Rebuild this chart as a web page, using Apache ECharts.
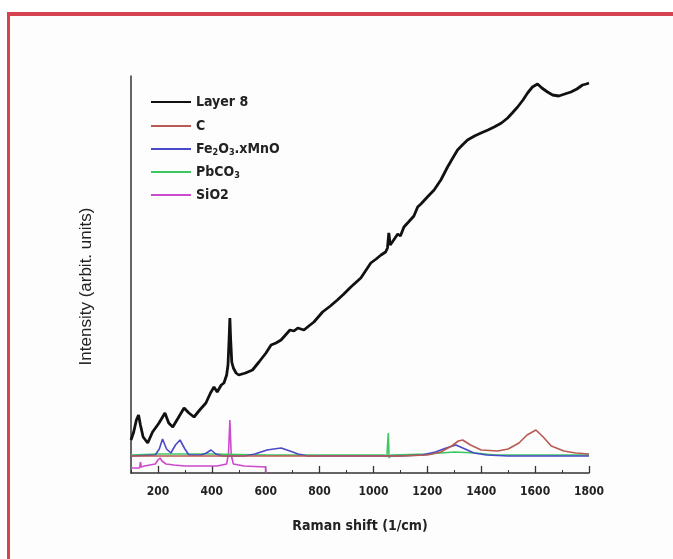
<!DOCTYPE html>
<html>
<head>
<meta charset="utf-8">
<script src="https://cdn.jsdelivr.net/npm/echarts@6/dist/echarts.min.js"></script>
<style>
html,body{margin:0;padding:0;background:#ffffff;}
#frame{position:absolute;left:7px;top:12px;width:666px;height:547px;border-top:4px solid #d4434f;border-left:3px solid #d4434f;box-sizing:border-box;background:#fdfdfd;}
#chart{position:absolute;left:0;top:0;width:673px;height:559px;}
</style>
</head>
<body>
<div id="frame"></div>
<div id="chart"></div>
<script>
// Raman shift (1/cm), intensity (arbitrary units)
const layer8 = [[100,33],[110,41],[120,53],[128,58],[135,48],[145,36],[162,30],[180,41],[204,50],[215,55],[226,60],[240,50],[255,46],[275,55],[297,65],[315,60],[334,56],[355,63],[378,70],[395,80],[408,86],[420,81],[435,88],[445,90],[455,98],[460,108],[464,133],[467,155],[470,133],[474,111],[480,105],[490,100],[500,98],[525,100],[551,103],[575,111],[601,120],[620,128],[638,130],[657,133],[690,143],[705,142],[719,145],[742,143],[760,147],[779,151],[795,156],[811,161],[840,167],[866,173],[890,179],[916,186],[953,195],[990,210],[1010,214],[1028,218],[1045,221],[1052,225],[1057,240],[1062,228],[1070,231],[1090,239],[1100,237],[1113,246],[1130,251],[1150,257],[1164,266],[1176,269],[1200,276],[1225,283],[1250,293],[1275,306],[1290,313],[1312,323],[1330,328],[1349,333],[1375,337],[1399,340],[1425,343],[1448,346],[1475,350],[1498,355],[1515,360],[1535,366],[1555,373],[1572,380],[1590,386],[1609,389],[1625,385],[1646,381],[1665,378],[1688,377],[1710,379],[1733,381],[1755,384],[1776,388],[1790,389],[1800,390]];
const carbon = [[100,17],[600,17],[1100,17],[1200,18],[1250,21],[1290,27],[1315,32],[1331,33],[1360,28],[1400,23],[1461,22],[1500,24],[1540,30],[1570,38],[1603,43],[1630,36],[1660,27],[1707,22],[1750,20],[1800,19]];
const fe2o3 = [[100,17],[190,18],[205,24],[217,34],[232,24],[248,20],[265,28],[282,33],[300,24],[315,18],[360,18],[380,20],[397,23],[415,19],[440,17],[520,17],[560,19],[605,23],[630,24],[657,25],[690,22],[720,19],[756,17],[1100,17],[1180,18],[1230,21],[1270,25],[1306,28],[1340,24],[1373,20],[1420,18],[1500,17],[1800,17]];
const pbco3 = [[100,18],[200,19],[400,19],[600,18],[1040,18],[1050,17],[1055,40],[1058,15],[1065,18],[1200,19],[1300,21],[1380,20],[1450,18],[1800,18]];
const sio2 = [[100,5],[132,5],[135,11],[138,6],[150,7],[190,9],[200,13],[208,15],[215,12],[230,9],[260,8],[300,7],[420,7],[455,9],[462,20],[467,53],[472,18],[480,9],[520,7],[600,6],[601,0]];
const seriesNames = ['Layer 8','C','Fe2O3.xMnO','PbCO3','SiO2'];
const seriesColors = ['#111111','#b85a52','#4a4ac8','#3cc860','#cc4acc'];
const xTickLabels = [200,400,600,800,1000,1200,1400,1600,1800];

const chart = echarts.init(document.getElementById('chart'));
const font = '"Liberation Sans Narrow","DejaVu Sans Condensed","Liberation Sans",Arial,sans-serif';
const rich = {
  n:{fontSize:14,fontWeight:'bold',color:'#222',fontFamily:font},
  s:{fontSize:9,fontWeight:'bold',color:'#222',fontFamily:font,verticalAlign:'bottom',padding:[8,0,0,0]}
};
const legendFmt = {
  'Layer 8':'{n|Layer 8}',
  'C':'{n|C}',
  'Fe2O3.xMnO':'{n|Fe}{s|2}{n|O}{s|3}{n|.xMnO}',
  'PbCO3':'{n|PbCO}{s|3}',
  'SiO2':'{n|SiO2}'
};
const legendTops = [90,114,137,160,183];
const legends = seriesNames.map((nm,i)=>({
  data:[nm], left:146, top:legendTops[i], icon:'rect', itemWidth:40, itemHeight:2,
  itemGap:5, selectedMode:false,
  formatter:(n)=>legendFmt[n], textStyle:{rich:rich}
}));
const datasets = [layer8,carbon,fe2o3,pbco3,sio2];
chart.setOption({
  animation:false,
  backgroundColor:'transparent',
  legend:legends,
  grid:{left:131,right:84,top:76,bottom:86},
  xAxis:[{
    type:'value', min:100, max:1800, interval:100,
    name:'Raman shift (1/cm)', nameLocation:'middle', nameGap:46,
    nameTextStyle:{fontSize:14,fontWeight:'bold',color:'#222',fontFamily:font},
    axisLine:{lineStyle:{color:'#333',width:1.5}},
    axisTick:{inside:true,length:7,lineStyle:{color:'#333',width:1.3},customValues:xTickLabels},
    axisLabel:{fontSize:12,fontWeight:'bold',color:'#222',fontFamily:font,margin:13,
      customValues:xTickLabels,
      formatter:(v)=> (v%200===0 ? String(v) : '')},
    splitLine:{show:false}
  },{
    type:'value', min:100, max:1800, interval:100, position:'bottom',
    axisLine:{show:false}, axisLabel:{show:false}, splitLine:{show:false},
    axisTick:{inside:true,length:3,lineStyle:{color:'#333',width:1}}
  }],
  yAxis:{
    type:'value', min:0, max:397,
    name:'Intensity (arbit. units)', nameLocation:'middle', nameGap:36,
    nameTextStyle:{fontSize:17,color:'#222',fontFamily:'"Liberation Sans",Arial,sans-serif',padding:[0,24,0,0]},
    axisLine:{show:true,lineStyle:{color:'#333',width:1.5}},
    axisTick:{show:false}, axisLabel:{show:false}, splitLine:{show:false}
  },
  series: datasets.map((d,i)=>({
    name:seriesNames[i], type:'line', data:d, showSymbol:false, symbol:'none',
    xAxisIndex:0, z: i===0 ? 10 : 5-i+3,
    lineStyle:{color:seriesColors[i], width: i===0 ? 2.8 : 1.6},
    itemStyle:{color:seriesColors[i]}
  }))
});
</script>
</body>
</html>
